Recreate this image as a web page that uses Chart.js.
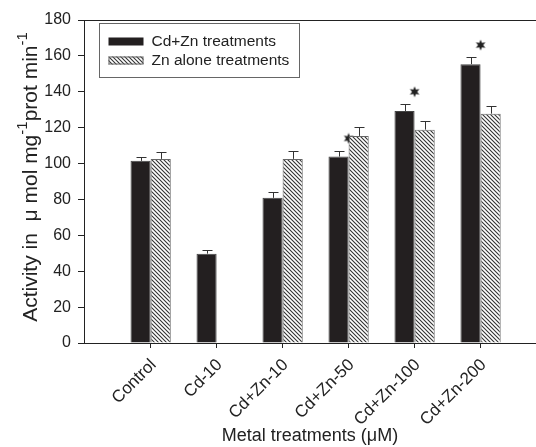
<!DOCTYPE html>
<html lang="en">
<head>
  <meta charset="UTF-8">
  <title>Activity vs metal treatments</title>
  <script src="https://cdn.jsdelivr.net/npm/chart.js"></script>
  <style>
    html, body { margin: 0; padding: 0; background: #fff; overflow: hidden; }
    #chart-box { width: 536px; height: 447px; }
  </style>
</head>
<body>
  <div id="chart-box"><canvas id="activity-chart" width="536" height="447"></canvas></div>
  <script>
    // Data
    const categories = ['Control', 'Cd-10', 'Cd+Zn-10', 'Cd+Zn-50', 'Cd+Zn-100', 'Cd+Zn-200'];
    const cdZn = [101.5, 49.8, 80.9, 103.9, 129.3, 155.4];
    const cdZnErr = [2.4, 2.2, 3.4, 3.1, 3.8, 4.0];
    const znAlone = [102.6, null, 102.6, 115.4, 118.9, 127.8];
    const znAloneErr = [3.9, null, 4.4, 5.0, 4.8, 4.4];
    const starMarks = [null, null, null, 114, 140, 166];
    const yTicks = [0, 20, 40, 60, 80, 100, 120, 140, 160, 180];

    const ctx = document.getElementById('activity-chart').getContext('2d');

    // diagonal hatch fill for the "Zn alone" bars
    function makeHatch() {
      const s = 4;
      const c = document.createElement('canvas');
      c.width = s; c.height = s;
      const g = c.getContext('2d');
      g.fillStyle = '#fff';
      g.fillRect(0, 0, s, s);
      g.strokeStyle = '#333';
      g.lineWidth = 1.1;
      g.beginPath();
      g.moveTo(-1, -1); g.lineTo(s + 1, s + 1);
      g.moveTo(-1, s - 1); g.lineTo(1, s + 1);
      g.moveTo(s - 1, -1); g.lineTo(s + 1, 1);
      g.stroke();
      return ctx.createPattern(c, 'repeat');
    }
    const hatch = makeHatch();

    // small filled star used to flag significant values
    function makeStar() {
      const c = document.createElement('canvas');
      c.width = 12; c.height = 12;
      const g = c.getContext('2d');
      g.fillStyle = '#222';
      g.beginPath();
      for (let k = 0; k < 12; k++) {
        const r = k % 2 === 0 ? 5.5 : 2.6;
        const a = -Math.PI / 2 + k * Math.PI / 6;
        const px = 6 + r * Math.cos(a), py = 6 + r * Math.sin(a);
        if (k === 0) g.moveTo(px, py); else g.lineTo(px, py);
      }
      g.closePath();
      g.fill();
      return c;
    }

    const errorBars = {
      id: 'errorBars',
      afterDatasetsDraw(chart) {
        const c = chart.ctx, y = chart.scales.y;
        c.save();
        c.strokeStyle = '#333';
        c.lineWidth = 1;
        chart.data.datasets.forEach((ds, di) => {
          if (!ds.errors) return;
          chart.getDatasetMeta(di).data.forEach((bar, i) => {
            const v = ds.values[i];
            if (v == null) return;
            const top = Math.round(y.getPixelForValue(v + ds.errors[i])) + 0.5;
            const x = Math.round(bar.x) + 0.5;
            c.beginPath();
            c.moveTo(x, bar.y);
            c.lineTo(x, top);
            c.moveTo(x - 5, top);
            c.lineTo(x + 5, top);
            c.stroke();
          });
        });
        c.restore();
      }
    };

    const frameAndLegend = {
      id: 'frameAndLegend',
      afterDraw(chart) {
        const c = chart.ctx, area = chart.chartArea;
        c.save();
        // top frame line
        c.strokeStyle = '#222';
        c.lineWidth = 1;
        c.beginPath();
        c.moveTo(area.left, Math.round(area.top) + 0.5);
        c.lineTo(area.right, Math.round(area.top) + 0.5);
        c.stroke();

        // legend box
        const bx = area.left + 15.5, by = area.top + 3.5;
        c.strokeStyle = '#666';
        c.strokeRect(bx, by, 200, 54);
        c.fillStyle = '#231f20';
        c.fillRect(bx + 9, by + 14, 35, 8);
        c.fillStyle = hatch;
        c.fillRect(bx + 9, by + 33, 35, 8);
        c.strokeStyle = '#666';
        c.strokeRect(bx + 9.5, by + 33.5, 34, 7);
        c.fillStyle = '#222';
        c.font = '15.5px "Liberation Sans", Arial, sans-serif';
        c.textBaseline = 'middle';
        c.fillText('Cd+Zn treatments', bx + 52, by + 18);
        c.fillText('Zn alone treatments', bx + 52, by + 37);

        // y axis title with superscripts
        const parts = [['Activity in  \u03bc mol mg', false], ['-1', true], ['prot min', false], ['-1', true]];
        const mainFont = '21px "Liberation Sans", Arial, sans-serif';
        const supFont = '15px "Liberation Sans", Arial, sans-serif';
        let total = 0;
        parts.forEach(p => {
          c.font = p[1] ? supFont : mainFont;
          total += c.measureText(p[0]).width;
        });
        c.translate(37, 177);
        c.rotate(-Math.PI / 2);
        c.textBaseline = 'alphabetic';
        let x = -total / 2;
        parts.forEach(p => {
          c.font = p[1] ? supFont : mainFont;
          c.fillText(p[0], x, p[1] ? -10 : 0);
          x += c.measureText(p[0]).width;
        });
        c.restore();
      }
    };

    new Chart(ctx, {
      type: 'bar',
      data: {
        datasets: [{
          label: 'Cd+Zn treatments',
          data: cdZn.map((v, i) => ({ x: i, y: v })),
          values: cdZn,
          errors: cdZnErr,
          backgroundColor: '#231f20',
          borderColor: '#444',
          borderWidth: 1,
          barPercentage: 1,
          categoryPercentage: 0.61
        }, {
          label: 'Zn alone treatments',
          data: znAlone.map((v, i) => ({ x: i, y: v })),
          values: znAlone,
          errors: znAloneErr,
          backgroundColor: hatch,
          borderColor: '#666',
          borderWidth: 1,
          barPercentage: 1,
          categoryPercentage: 0.61
        }, {
          type: 'scatter',
          label: 'significant',
          data: starMarks.map((v, i) => ({ x: i, y: v })).filter(p => p.y != null),
          pointStyle: makeStar(),
          pointRadius: 6
        }]
      },
      options: {
        responsive: false,
        animation: false,
        layout: { autoPadding: false, padding: { top: 20, left: 0, right: 0, bottom: 0 } },
        plugins: {
          legend: { display: false },
          tooltip: { enabled: false }
        },
        scales: {
          x: {
            type: 'linear',
            offset: false,
            min: -1.01,
            max: 5.84,
            afterBuildTicks(scale) {
              scale.ticks = categories.map((_, i) => ({ value: i }));
            },
            afterFit(scale) {
              scale.height = 104;
              scale.paddingLeft = 0;
              scale.paddingRight = 0;
            },
            grid: { offset: false, drawOnChartArea: false, drawTicks: true, tickLength: 5, color: '#222' },
            border: { color: '#222', width: 1 },
            ticks: {
              autoSkip: false,
              maxRotation: 45,
              minRotation: 45,
              padding: 7,
              labelOffset: 3,
              color: '#222',
              font: { family: '"Liberation Sans", Arial, sans-serif', size: 17 },
              callback: (v) => categories[v] ?? ''
            },
            title: {
              display: true,
              text: 'Metal treatments (\u03bcM)',
              color: '#222',
              font: { family: '"Liberation Sans", Arial, sans-serif', size: 18 },
              padding: { top: 0, bottom: 0 }
            }
          },
          y: {
            min: 0,
            max: 180,
            afterBuildTicks(scale) {
              scale.ticks = yTicks.map(v => ({ value: v }));
            },
            afterFit(scale) { scale.width = 84; },
            grid: { drawOnChartArea: false, drawTicks: true, tickLength: 6, color: '#222' },
            border: { color: '#222', width: 1 },
            ticks: {
              padding: 7,
              color: '#222',
              font: { family: '"Liberation Sans", Arial, sans-serif', size: 16 }
            }
          }
        }
      },
      plugins: [errorBars, frameAndLegend]
    });
  </script>
</body>
</html>
